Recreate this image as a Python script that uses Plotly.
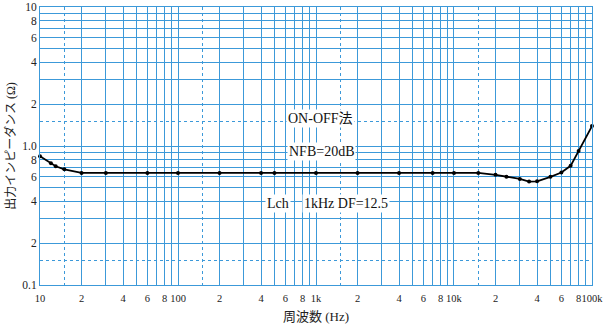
import numpy as np
import plotly.graph_objects as go

# Output impedance vs frequency (Lch, NFB=20dB, ON-OFF method)
freq_hz = [10, 12, 13, 15, 20, 30, 60, 100, 200, 400, 500, 1000, 2000, 4000,
           7000, 10000, 15000, 20000, 24000, 30000, 35000, 40000, 50000,
           60000, 70000, 80000, 100000]
impedance_ohm = [0.845, 0.75, 0.715, 0.68, 0.64, 0.64, 0.64, 0.64, 0.64, 0.64,
                 0.64, 0.64, 0.64, 0.64, 0.64, 0.64, 0.64, 0.62, 0.60, 0.58,
                 0.555, 0.557, 0.60, 0.645, 0.72, 0.92, 1.39]

# Tick labels: full label at decades, bare mantissa at 2/4/6/8
x_decades = [10, 100, 1000, 10000]
x_decade_labels = ["10", "100", "1k", "10k"]
y_decades = [0.1, 1]
y_decade_labels = ["0.1", "1.0"]
mantissa_labels = {2: "2", 4: "4", 6: "6", 8: "8"}

GRID = "#3c99d9"
SERIF = "Liberation Serif, DejaVu Serif, Noto Sans CJK JP, serif"
EPS = 1e-4  # keeps the end ticks inside the axis range


def log_ticks(decades, labels, last, last_label):
    vals, text = [], []
    for d, lab in zip(decades, labels):
        for m in range(1, 10):
            vals.append(d * m)
            text.append(lab if m == 1 else mantissa_labels.get(m, ""))
    vals.append(last)
    text.append(last_label)
    return vals, text


xt_vals, xt_text = log_ticks(x_decades, x_decade_labels, 100000, "100k")
yt_vals, yt_text = log_ticks(y_decades, y_decade_labels, 10, "10")

fig = go.Figure()
fig.add_trace(go.Scatter(
    x=freq_hz, y=impedance_ohm, mode="lines+markers",
    line=dict(color="black", width=1.8),
    marker=dict(color="black", size=4),
    showlegend=False, cliponaxis=False,
))

fig.update_xaxes(
    type="log", range=[1 - EPS, 5 + EPS],
    tickmode="array", tickvals=xt_vals, ticktext=xt_text,
    ticklabeloverflow="allow", tickangle=0, ticklabelstandoff=3,
    showgrid=True, gridcolor=GRID, gridwidth=1,
    minor=dict(tickmode="array", tickvals=[15, 150, 1500, 15000],
               showgrid=True, gridcolor=GRID, griddash="dot", gridwidth=1),
    showline=True, linecolor=GRID, mirror=True, zeroline=False,
    ticks="", tickfont=dict(family=SERIF, size=10.5, color="#222"),
    title=dict(text="周波数 (Hz)", font=dict(family=SERIF, size=13, color="#222"),
               standoff=9),
    automargin=False,
)
fig.update_yaxes(
    type="log", range=[-1 - EPS, 1 + EPS],
    tickmode="array", tickvals=yt_vals, ticktext=yt_text,
    ticklabeloverflow="allow",
    showgrid=True, gridcolor=GRID, gridwidth=1,
    minor=dict(tickmode="array", tickvals=[0.15, 1.5],
               showgrid=True, gridcolor=GRID, griddash="dot", gridwidth=1),
    showline=True, linecolor=GRID, mirror=True, zeroline=False,
    ticks="", tickfont=dict(family=SERIF, size=11.5, color="#222"),
    title=dict(text="出力インピーダンス (Ω)",
               font=dict(family=SERIF, size=12, color="#222"), standoff=4),
    automargin=False,
)

note_font = dict(family=SERIF, size=14, color="#111")
notes = [
    ("ON-OFF法", 1070, 1.59),
    ("NFB=20dB", 1090, 0.92),
    ("Lch", 530, 0.387),
    ("1kHz DF=12.5", 1650, 0.387),
]
for text, fx, fy in notes:
    fig.add_annotation(x=np.log10(fx), y=np.log10(fy), text=text,
                       showarrow=False, font=note_font, bgcolor="white",
                       borderpad=1)

fig.update_layout(
    width=610, height=325,
    margin=dict(l=40, r=18, t=7, b=40),
    paper_bgcolor="white", plot_bgcolor="white",
)

fig.write_html("out.html")
